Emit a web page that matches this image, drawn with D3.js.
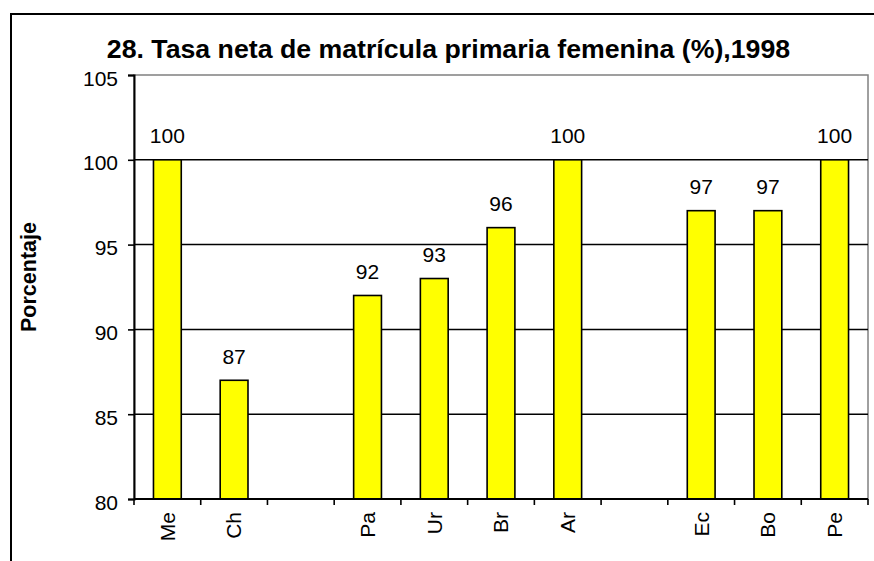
<!DOCTYPE html>
<html>
<head>
<meta charset="utf-8">
<script src="https://cdn.jsdelivr.net/npm/d3@7"></script>
<style>
  body { margin: 0; background: #fff; }
  svg text { font-family: "Liberation Sans", Arial, sans-serif; fill: #000; }
</style>
</head>
<body>
<div id="chart"></div>
<script>
// data (blank slots are empty categories)
const categories = ["Me", "Ch", "", "Pa", "Ur", "Br", "Ar", "", "Ec", "Bo", "Pe"];
const values = [100, 87, null, 92, 93, 96, 100, null, 97, 97, 100];
const yTicks = [80, 85, 90, 95, 100, 105];
const titleText = "28. Tasa neta de matrícula primaria femenina (%),1998";
const yTitle = "Porcentaje";

const width = 874, height = 561;
const plot = {left: 134, right: 868, top: 75, bottom: 499};

const svg = d3.select("#chart").append("svg")
    .attr("width", width)
    .attr("height", height);

// outer chart frame (cut off on the right and bottom)
svg.append("rect")
    .attr("x", 11).attr("y", 14)
    .attr("width", width + 20).attr("height", height + 20)
    .attr("fill", "none")
    .attr("stroke", "#000")
    .attr("stroke-width", 2);

const x = d3.scaleBand()
    .domain(d3.range(categories.length))
    .range([plot.left, plot.right])
    .padding(0);

const y = d3.scaleLinear()
    .domain([80, 105])
    .range([plot.bottom, plot.top]);

const barW = x.bandwidth() / 2.4; // gap width 140%

// plot area border
svg.append("rect")
    .attr("x", plot.left).attr("y", plot.top)
    .attr("width", plot.right - plot.left)
    .attr("height", plot.bottom - plot.top)
    .attr("fill", "#fff")
    .attr("stroke", "#808080")
    .attr("stroke-width", 1.5);

// gridlines
svg.append("g")
    .selectAll("line")
    .data(yTicks.filter(d => d > 80 && d < 105))
    .join("line")
    .attr("x1", plot.left).attr("x2", plot.right)
    .attr("y1", d => y(d)).attr("y2", d => y(d))
    .attr("stroke", "#000")
    .attr("stroke-width", 1.5);

// bars
const data = values.map((v, i) => ({i, v})).filter(d => d.v != null);

svg.append("g")
    .selectAll("rect")
    .data(data)
    .join("rect")
    .attr("x", d => x(d.i) + x.bandwidth() / 2 - barW / 2)
    .attr("y", d => y(d.v))
    .attr("width", barW)
    .attr("height", d => y(80) - y(d.v))
    .attr("fill", "#ffff00")
    .attr("stroke", "#000")
    .attr("stroke-width", 1.6);

// data labels
svg.append("g")
    .selectAll("text")
    .data(data)
    .join("text")
    .attr("x", d => x(d.i) + x.bandwidth() / 2)
    .attr("y", d => y(d.v) - 16.5)
    .attr("text-anchor", "middle")
    .style("font-size", "21px")
    .text(d => d.v);

// y axis
const yAxis = svg.append("g")
    .attr("transform", `translate(${plot.left},0)`)
    .call(d3.axisLeft(y).tickValues(yTicks).tickSize(6).tickPadding(10));
yAxis.select(".domain").attr("stroke", "#000").attr("stroke-width", 2);
yAxis.selectAll(".tick line").attr("stroke", "#000").attr("stroke-width", 1.6);
yAxis.selectAll(".tick text")
    .attr("dy", "0.48em")
    .style("font-size", "21px")
    .style("font-family", "'Liberation Sans', Arial, sans-serif");

// x axis: line plus ticks between categories
const xAxis = svg.append("g")
    .attr("transform", `translate(0,${plot.bottom})`);
xAxis.append("line")
    .attr("x1", plot.left).attr("x2", plot.right)
    .attr("stroke", "#000").attr("stroke-width", 2);
xAxis.selectAll("line.tick")
    .data(d3.range(categories.length + 1))
    .join("line")
    .attr("class", "tick")
    .attr("x1", i => plot.left + i * x.step())
    .attr("x2", i => plot.left + i * x.step())
    .attr("y1", 0).attr("y2", 6)
    .attr("stroke", "#000").attr("stroke-width", 1.6);
xAxis.selectAll("text")
    .data(categories.map((c, i) => ({c, i})).filter(d => d.c))
    .join("text")
    .attr("transform", d => `translate(${x(d.i) + x.bandwidth() / 2},13) rotate(-90)`)
    .attr("dy", "0.35em")
    .attr("text-anchor", "end")
    .style("font-size", "21px")
    .text(d => d.c);

// titles
svg.append("text")
    .attr("x", 448.5).attr("y", 57.5)
    .attr("text-anchor", "middle")
    .style("font-size", "26.7px")
    .style("font-weight", "bold")
    .text(titleText);

svg.append("text")
    .attr("transform", "translate(36,277) rotate(-90)")
    .attr("text-anchor", "middle")
    .style("font-size", "21.5px")
    .style("font-weight", "bold")
    .text(yTitle);
</script>
</body>
</html>
